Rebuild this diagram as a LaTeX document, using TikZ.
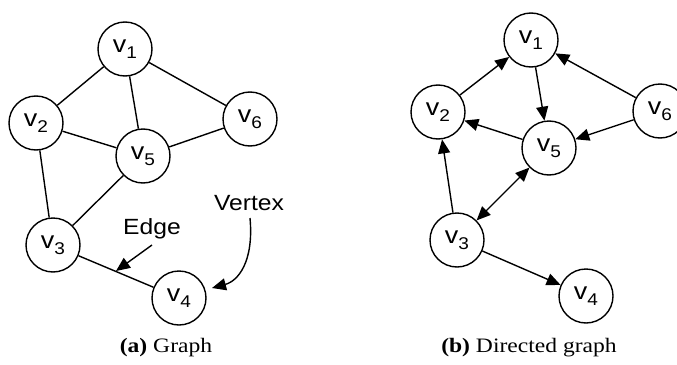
\documentclass[tikz,border=0pt]{standalone}
\usepackage{fontspec}
\setmainfont{Liberation Serif}[FakeStretch=1.15]
\setsansfont{Liberation Sans}[FakeStretch=1.12]
\usetikzlibrary{arrows.meta}
\newcommand{\vx}[1]{v\raisebox{-5.5pt}{\fontsize{17}{17}\selectfont #1}}
\tikzset{
  vertex/.style={circle, draw, line width=1.4pt, minimum size=54pt, inner sep=0pt,
    font=\sffamily\fontsize{24}{24}\selectfont},
  edge/.style={line width=1.4pt},
  tip/.style={Triangle[length=14pt,width=12pt]},
  arc/.style={line width=1.4pt, -{Triangle[length=14pt,width=12pt]}},
  biarc/.style={line width=1.4pt, {Triangle[length=14pt,width=12pt]}-{Triangle[length=14pt,width=12pt]}},
  note/.style={font=\sffamily\fontsize{22}{22}\selectfont, inner sep=0pt},
  caption/.style={font=\rmfamily\fontsize{20.5}{20.5}\selectfont, inner sep=0pt}
}
\begin{document}
\begin{tikzpicture}[x=1pt, y=-1pt]
\useasboundingbox (0,0) rectangle (677,364);
% (a) undirected graph
\node[vertex] (a1) at (125,49) {\vx{1}};
\node[vertex] (a2) at (36,123) {\vx{2}};
\node[vertex] (a6) at (250,119) {\vx{6}};
\node[vertex] (a5) at (143,156) {\vx{5}};
\node[vertex] (a3) at (53,245) {\vx{3}};
\node[vertex] (a4) at (179,298) {\vx{4}};
\draw[edge] (a1) -- (a2);
\draw[edge] (a1) -- (a5);
\draw[edge] (a1) -- (a6);
\draw[edge] (a2) -- (a5);
\draw[edge] (a2) -- (a3);
\draw[edge] (a5) -- (a6);
\draw[edge] (a5) -- (a3);
\draw[edge] (a3) -- (a4);
% annotations
\node[note] (edgelbl) at (152,229) {Edge};
\node[note] (vertexlbl) at (249,203) {Vertex};
\coordinate (edgetail) at (152,245);
\coordinate (edgetip) at (116,271);
\coordinate (vtxtail) at (250,218);
\coordinate (vtxtip) at (212,288);
\draw[arc] (edgetail) -- (edgetip);
\draw[arc] (vtxtail) .. controls (254,262) and (238,281) .. (vtxtip);
\node[caption] (capa) at (166,348) {\textbf{(a)} Graph};
% (b) directed graph
\node[vertex] (b1) at (531,40) {\vx{1}};
\node[vertex] (b2) at (438,112) {\vx{2}};
\node[vertex] (b6) at (660,111) {\vx{6}};
\node[vertex] (b5) at (549,148) {\vx{5}};
\node[vertex] (b3) at (457,240) {\vx{3}};
\node[vertex] (b4) at (586,296) {\vx{4}};
\draw[arc] (b2) -- (b1);
\draw[arc] (b1) -- (b5);
\draw[arc] (b6) -- (b1);
\draw[arc] (b6) -- (b5);
\draw[arc] (b5) -- (b2);
\draw[arc] (b3) -- (b2);
\draw[biarc] (b3) -- (b5);
\draw[arc] (b3) -- (b4);
\node[caption] (capb) at (529,348) {\textbf{(b)} Directed graph};
\end{tikzpicture}
\end{document}
